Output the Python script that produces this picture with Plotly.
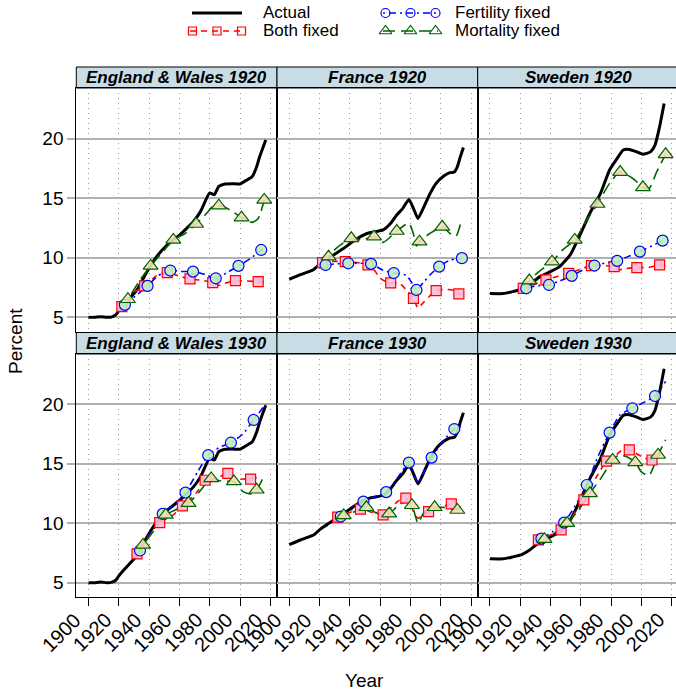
import plotly.graph_objects as go

# ---------------------------------------------------------------- data
# Observed share (percent), one series per country
ew_yr = [1900, 1904, 1908, 1912, 1915, 1918, 1920, 1925, 1932, 1938, 1945, 1952, 1960, 1965,
         1969, 1974, 1980, 1983, 1986, 1990, 1995, 2000, 2004, 2008, 2011, 2013, 2017]
ew_pct = [5.0, 5.0, 5.05, 5.0, 5.02, 5.2, 5.57, 6.3, 7.3, 8.7, 10.1, 11.08, 11.9, 12.5,
          13.0, 13.9, 15.45, 15.3, 16.0, 16.2, 16.22, 16.2, 16.5, 16.8, 17.65, 18.5, 19.9]

fr_yr = [1900, 1907, 1913, 1916, 1921, 1926, 1931, 1936, 1942, 1949, 1953, 1962, 1967, 1971,
         1975, 1979, 1982, 1985, 1989, 1993, 1997, 2002, 2006, 2009, 2011, 2013, 2015]
fr_pct = [8.2, 8.56, 8.84, 9.0, 9.54, 9.96, 10.38, 10.8, 11.36, 11.9, 12.1, 12.34, 12.9, 13.6,
          14.15, 14.9, 14.15, 13.3, 14.3, 15.4, 16.25, 16.87, 17.15, 17.2, 17.65, 18.5, 19.27]

se_yr = [1900, 1909, 1915, 1921, 1926, 1933, 1940, 1946, 1953, 1959, 1966, 1973, 1979, 1984,
         1988, 1992, 1997, 2001, 2006, 2009, 2012, 2015]
se_pct = [7.0, 7.0, 7.16, 7.36, 7.72, 8.42, 8.84, 9.26, 10.24, 11.78, 13.74, 15.41, 17.37, 18.35,
          19.05, 19.1, 18.9, 18.7, 18.9, 19.47, 21.0, 22.96]

# Counterfactual projections, base year 1920
ew20_both_yr = [1921, 1922, 1930, 1937, 1945, 1952, 1960, 1967, 1975, 1982, 1986, 1990, 1997, 2005, 2012, 2017]
ew20_both_pct = [5.7, 5.9, 7.1, 7.64, 8.5, 8.76, 8.45, 8.23, 8.1, 7.92, 7.7, 7.85, 8.09, 8.05, 8.0, 8.0]
ew20_fert_yr = [1921, 1924, 1931, 1939, 1946, 1954, 1962, 1969, 1977, 1984, 1992, 1999, 2007, 2014, 2016]
ew20_fert_pct = [5.75, 6.05, 6.8, 7.64, 8.5, 8.93, 8.85, 8.84, 8.6, 8.28, 8.8, 9.32, 9.95, 10.66, 10.8]
ew20_mort_yr = [1921, 1926, 1934, 1941, 1949, 1956, 1964, 1971, 1978, 1982, 1986, 1989, 1995, 2001, 2008, 2012, 2016]
ew20_mort_pct = [5.8, 6.52, 8.14, 9.32, 10.5, 11.5, 12.06, 12.84, 13.74, 14.3, 14.38, 14.3, 13.9, 13.37, 12.98, 13.3, 14.86]

fr20_both_yr = [1921, 1922, 1930, 1937, 1945, 1952, 1956, 1960, 1964, 1967, 1973, 1977, 1982, 1985, 1989, 1997, 2007, 2012, 2015]
fr20_both_pct = [9.55, 9.6, 9.7, 9.68, 9.6, 9.4, 9.0, 8.28, 8.0, 7.9, 7.85, 7.35, 6.6, 5.8, 6.3, 7.25, 7.31, 6.97, 6.9]
fr20_fert_yr = [1921, 1924, 1931, 1939, 1946, 1954, 1962, 1969, 1977, 1981, 1984, 1989, 1993, 1999, 2006, 2014]
fr20_fert_pct = [9.5, 9.4, 9.5, 9.54, 9.55, 9.49, 8.95, 8.72, 8.55, 7.9, 7.3, 8.0, 8.57, 9.26, 9.8, 9.97]
fr20_mort_yr = [1921, 1926, 1931, 1941, 1948, 1956, 1962, 1971, 1979, 1982, 1984, 1986, 1993, 2001, 2006, 2010, 2014]
fr20_mort_pct = [9.6, 10.1, 10.8, 11.64, 11.5, 11.78, 11.3, 12.25, 12.9, 12.0, 11.0, 11.36, 12.06, 12.6, 12.06, 11.8, 13.3]

se20_both_yr = [1921, 1922, 1930, 1937, 1945, 1952, 1960, 1967, 1975, 1982, 1985, 1990, 1997, 2005, 2012, 2016]
se20_both_pct = [7.4, 7.44, 7.8, 8.14, 8.45, 8.7, 9.05, 9.35, 9.35, 9.26, 9.0, 9.1, 9.18, 9.2, 9.4, 9.3]
se20_fert_yr = [1921, 1924, 1931, 1939, 1946, 1954, 1961, 1969, 1976, 1984, 1991, 1999, 2007, 2014, 2016]
se20_fert_pct = [7.4, 7.44, 7.65, 7.72, 8.05, 8.48, 8.95, 9.35, 9.55, 9.74, 10.1, 10.52, 11.0, 11.44, 11.5]
se20_mort_yr = [1921, 1926, 1931, 1941, 1948, 1956, 1964, 1971, 1979, 1986, 1995, 2001, 2005, 2010, 2016]
se20_mort_pct = [7.5, 8.09, 8.7, 9.68, 10.66, 11.5, 13.18, 14.52, 16.25, 17.2, 16.6, 15.92, 15.8, 17.2, 18.69]

# Counterfactual projections, base year 1930
ew30_both_yr = [1931, 1932, 1939, 1947, 1956, 1962, 1971, 1977, 1982, 1987, 1992, 1997, 2001, 2007, 2013]
ew30_both_pct = [7.2, 7.42, 8.87, 10.04, 10.7, 11.44, 12.5, 13.6, 13.6, 13.9, 14.18, 13.76, 13.7, 13.7, 13.9]
ew30_fert_yr = [1931, 1934, 1941, 1949, 1957, 1964, 1972, 1979, 1987, 1994, 2002, 2009, 2017]
ew30_fert_pct = [7.2, 7.7, 9.2, 10.77, 11.6, 12.56, 14.3, 15.7, 16.4, 16.75, 17.5, 18.66, 20.0]
ew30_mort_yr = [1931, 1936, 1944, 1951, 1959, 1966, 1973, 1981, 1985, 1990, 1996, 2002, 2007, 2011, 2016]
ew30_mort_pct = [7.3, 8.17, 9.5, 10.69, 11.2, 11.67, 12.6, 13.75, 13.6, 13.5, 13.5, 12.64, 12.45, 12.8, 14.0]

fr30_both_yr = [1931, 1932, 1940, 1947, 1955, 1962, 1972, 1977, 1982, 1985, 1988, 1992, 2000, 2007, 2012, 2014]
fr30_both_pct = [10.4, 10.5, 10.9, 11.17, 10.9, 10.69, 11.86, 12.09, 11.0, 10.4, 10.7, 10.97, 11.3, 11.61, 11.25, 11.4]
fr30_fert_yr = [1931, 1934, 1941, 1949, 1956, 1964, 1972, 1979, 1982, 1985, 1989, 1994, 2001, 2009, 2015]
fr30_fert_pct = [10.4, 10.55, 11.1, 11.8, 12.2, 12.6, 13.9, 15.08, 14.3, 13.4, 14.3, 15.5, 16.8, 17.9, 18.2]
fr30_mort_yr = [1931, 1936, 1944, 1951, 1957, 1966, 1972, 1977, 1981, 1985, 1989, 1996, 2004, 2011, 2015]
fr30_mort_pct = [10.35, 10.65, 11.0, 11.33, 10.88, 10.8, 11.5, 11.8, 11.5, 10.0, 10.9, 11.33, 11.3, 11.1, 11.75]

se30_both_yr = [1931, 1932, 1939, 1947, 1954, 1962, 1970, 1977, 1984, 1988, 1992, 2000, 2007, 2013, 2015]
se30_both_pct = [8.55, 8.6, 8.95, 9.43, 10.5, 11.95, 13.8, 15.2, 15.8, 16.2, 16.15, 15.6, 15.3, 15.8, 15.9]
se30_fert_yr = [1931, 1934, 1941, 1949, 1956, 1964, 1971, 1979, 1986, 1994, 2001, 2009, 2016]
se30_fert_pct = [8.6, 8.7, 9.25, 10.04, 11.4, 13.2, 15.5, 17.6, 19.1, 19.64, 20.1, 20.67, 21.9]
se30_mort_yr = [1931, 1936, 1943, 1951, 1958, 1966, 1974, 1981, 1985, 1990, 1996, 2000, 2005, 2011, 2016]
se30_mort_pct = [8.5, 8.65, 9.2, 10.0, 11.0, 12.5, 13.9, 15.3, 15.7, 15.6, 15.1, 14.3, 14.0, 15.72, 17.0]

countries = ["England & Wales", "France", "Sweden"]
base_years = [1920, 1930]
series_names = ["Both fixed", "Fertility fixed", "Mortality fixed"]
year_ticks = [1900, 1920, 1940, 1960, 1980, 2000, 2020]
pct_ticks = [5, 10, 15, 20]

# first year carrying a symbol; symbols then repeat every 15 years
marker_first = {1920: {"Both fixed": 1922, "Fertility fixed": 1924, "Mortality fixed": 1926},
                1930: {"Both fixed": 1932, "Fertility fixed": 1934, "Mortality fixed": 1936}}
MARKER_STEP = 15

actual = {"England & Wales": (ew_yr, ew_pct), "France": (fr_yr, fr_pct), "Sweden": (se_yr, se_pct)}
projections = {
    ("England & Wales", 1920): [(ew20_both_yr, ew20_both_pct), (ew20_fert_yr, ew20_fert_pct), (ew20_mort_yr, ew20_mort_pct)],
    ("France", 1920): [(fr20_both_yr, fr20_both_pct), (fr20_fert_yr, fr20_fert_pct), (fr20_mort_yr, fr20_mort_pct)],
    ("Sweden", 1920): [(se20_both_yr, se20_both_pct), (se20_fert_yr, se20_fert_pct), (se20_mort_yr, se20_mort_pct)],
    ("England & Wales", 1930): [(ew30_both_yr, ew30_both_pct), (ew30_fert_yr, ew30_fert_pct), (ew30_mort_yr, ew30_mort_pct)],
    ("France", 1930): [(fr30_both_yr, fr30_both_pct), (fr30_fert_yr, fr30_fert_pct), (fr30_mort_yr, fr30_mort_pct)],
    ("Sweden", 1930): [(se30_both_yr, se30_both_pct), (se30_fert_yr, se30_fert_pct), (se30_mort_yr, se30_mort_pct)],
}

# ---------------------------------------------------------------- styling
FONT = "Liberation Sans, Arial, Helvetica, sans-serif"
W, H = 676, 696
STYLE = {
    "Actual": dict(color="black", width=3.0, dash="solid"),
    "Both fixed": dict(color="#FF0000", width=1.6, dash="6px,5px", symbol="square",
                       fill="rgba(255,184,214,0.9)", size=10),
    "Fertility fixed": dict(color="#0000FF", width=1.6, dash="2px,4px,7px,4px", symbol="circle",
                            fill="rgba(190,238,190,0.9)", size=11),
    "Mortality fixed": dict(color="#006400", width=1.6, dash="12px,6px", symbol="triangle-up",
                            fill="rgba(242,222,184,0.9)", size=13),
}
STRIP_FILL = "#C8DCE5"
GRID_H = "#B0B0B0"
GRID_V = "#9A9A9A"
TICK_FONT = 19
XLAB_FONT = 20

# panel geometry in pixels
col_px = [(76.3, 277.0), (277.0, 477.7), (477.7, 676.0)]
row_px = [(88.0, 332.0), (354.0, 596.7)]
strip_px = [(67.0, 88.0), (332.5, 354.0)]
KEY_H = 45.0
X_LEFT = 1891.95
PX_PER_YEAR = 1.515
y_ranges = [(3.77, 24.26), (3.82, 24.20)]


def fx(p):
    return p / W


def fy(p):
    return 1 - p / H


fig = go.Figure()
layout = dict(
    template="none",
    width=W, height=H, margin=dict(l=0, r=0, t=0, b=0, autoexpand=False),
    paper_bgcolor="white", plot_bgcolor="rgba(0,0,0,0)", showlegend=False,
    font=dict(family=FONT, color="black"),
)
shapes, annotations = [], []

for r, base in enumerate(base_years):
    for c, country in enumerate(countries):
        k = r * 3 + c + 1
        ks = k + 6
        x0, x1 = col_px[c]
        y0, y1 = row_px[r]
        s0, s1 = strip_px[r]
        xr = [X_LEFT, X_LEFT + (x1 - x0) / PX_PER_YEAR]
        ax = "" if k == 1 else str(k)

        layout[f"xaxis{ax}"] = dict(
            domain=[fx(x0), fx(x1)], range=xr, anchor=f"y{ax}", automargin=False,
            tickvals=year_ticks, showgrid=True, gridcolor=GRID_V, gridwidth=1, griddash="1px,4px",
            zeroline=False, showline=True, mirror=True, linecolor="black", linewidth=1,
            ticks="outside" if r == 1 else "", ticklen=8, tickcolor="black", tickwidth=1,
            showticklabels=False,
        )
        layout[f"yaxis{ax}"] = dict(
            domain=[fy(y1), fy(y0)], range=list(y_ranges[r]), anchor=f"x{ax}", automargin=False,
            tickvals=pct_ticks, showgrid=True, gridcolor=GRID_H, gridwidth=1.6,
            zeroline=False, showline=True, mirror=(c < 2), linecolor="black", linewidth=1,
            ticks="outside" if c == 0 else "", ticklen=8, tickcolor=GRID_H, tickwidth=1.6,
            showticklabels=(c == 0), tickfont=dict(size=TICK_FONT, family=FONT, color="black"),
        )
        # strip axes: carry the top tick marks of the upper row
        layout[f"xaxis{ks}"] = dict(
            domain=[fx(x0), fx(x1)], range=xr, anchor=f"y{ks}", side="top", automargin=False,
            tickvals=year_ticks, showgrid=False, zeroline=False, showline=False,
            ticks="outside" if r == 0 else "", ticklen=7, tickcolor="black", tickwidth=1,
            showticklabels=False,
        )
        layout[f"yaxis{ks}"] = dict(domain=[fy(s1), fy(s0)], range=[0, 1], anchor=f"x{ks}",
                                    visible=False, automargin=False)

        shapes.append(dict(type="rect", xref="paper", yref="paper",
                           x0=fx(x0), x1=fx(x1) + (0.01 if c == 2 else 0), y0=fy(s1), y1=fy(s0),
                           fillcolor=STRIP_FILL, line=dict(color="black", width=1), layer="below"))
        annotations.append(dict(text=f"<b><i>{country} {base}</i></b>", xref="paper", yref="paper",
                                x=fx(col_px[c][0] + 100.35), y=fy((s0 + s1) / 2),
                                showarrow=False, font=dict(size=17, family=FONT, color="black"),
                                xanchor="center", yanchor="middle"))

        # slanted year labels under the lower row, ending at their tick
        if r == 1:
            for yv in year_ticks:
                annotations.append(dict(text=str(yv), xref=f"x{ax}", yref="paper",
                                        x=yv, y=fy(y1 + 8), xshift=0, yshift=-1,
                                        textangle=-45, xanchor="right", yanchor="top",
                                        showarrow=False,
                                        font=dict(size=XLAB_FONT, family=FONT, color="black")))

        xa, ya = f"x{ax}", f"y{ax}"
        yrs, vals = actual[country]
        st = STYLE["Actual"]
        fig.add_trace(go.Scatter(x=yrs, y=vals, mode="lines", xaxis=xa, yaxis=ya,
                                 line=dict(color=st["color"], width=st["width"], shape="spline",
                                           smoothing=0.5)))
        for name, (pyrs, pvals) in zip(series_names, projections[(country, base)]):
            st = STYLE[name]
            fig.add_trace(go.Scatter(x=pyrs, y=pvals, mode="lines", xaxis=xa, yaxis=ya,
                                     line=dict(color=st["color"], width=st["width"], dash=st["dash"],
                                               shape="spline", smoothing=0.6)))
        for name, (pyrs, pvals) in zip(series_names, projections[(country, base)]):
            st = STYLE[name]
            first = marker_first[base][name]
            mk = [(y, v) for y, v in zip(pyrs, pvals) if y >= first and (y - first) % MARKER_STEP == 0]
            fig.add_trace(go.Scatter(x=[m[0] for m in mk], y=[m[1] for m in mk], mode="markers",
                                     xaxis=xa, yaxis=ya,
                                     marker=dict(symbol=st["symbol"], size=st["size"], color=st["fill"],
                                                 line=dict(color=st["color"], width=1.2))))

# ---------------------------------------------------------------- key (pixel space, top band)
layout["xaxis13"] = dict(domain=[0, 1], range=[0, W], anchor="y13", visible=False,
                         fixedrange=True, automargin=False)
layout["yaxis13"] = dict(domain=[fy(KEY_H), 1], range=[KEY_H, 0], anchor="x13", visible=False,
                         fixedrange=True, automargin=False)
key_rows = [
    ("Actual", 192, 242, 13, 261),
    ("Both fixed", 190, 244, 31, 261),
    ("Fertility fixed", 383, 438, 13, 453),
    ("Mortality fixed", 383, 438, 31, 453),
]
for name, kx0, kx1, ky, tx in key_rows:
    st = STYLE[name]
    fig.add_trace(go.Scatter(x=[kx0, kx1], y=[ky, ky], mode="lines", xaxis="x13", yaxis="y13",
                             line=dict(color=st["color"], width=st["width"], dash=st["dash"]),
                             hoverinfo="skip"))
    if name != "Actual":
        mx = [kx0 + 2.5, (kx0 + kx1) / 2, kx1 - 2.5]
        fig.add_trace(go.Scatter(x=mx, y=[ky] * 3, mode="markers", xaxis="x13", yaxis="y13",
                                 marker=dict(symbol=st["symbol"] + "-open", size=st["size"] - 2,
                                             color=st["color"], line=dict(width=1.2)),
                                 hoverinfo="skip"))
    annotations.append(dict(text=name, xref="paper", yref="paper", x=fx(tx), y=fy(ky),
                            xanchor="left", yanchor="middle", showarrow=False,
                            font=dict(size=17, family=FONT, color="black")))

# axis titles
annotations.append(dict(text="Year", xref="paper", yref="paper", x=fx(364), y=fy(680),
                        showarrow=False, xanchor="center", yanchor="middle",
                        font=dict(size=19, family=FONT, color="black")))
annotations.append(dict(text="Percent", xref="paper", yref="paper", x=fx(15), y=fy(341),
                        showarrow=False, textangle=-90, xanchor="center", yanchor="middle",
                        font=dict(size=19, family=FONT, color="black")))

layout["shapes"] = shapes
layout["annotations"] = annotations
fig.update_layout(**layout)
fig.write_html("out.html")
